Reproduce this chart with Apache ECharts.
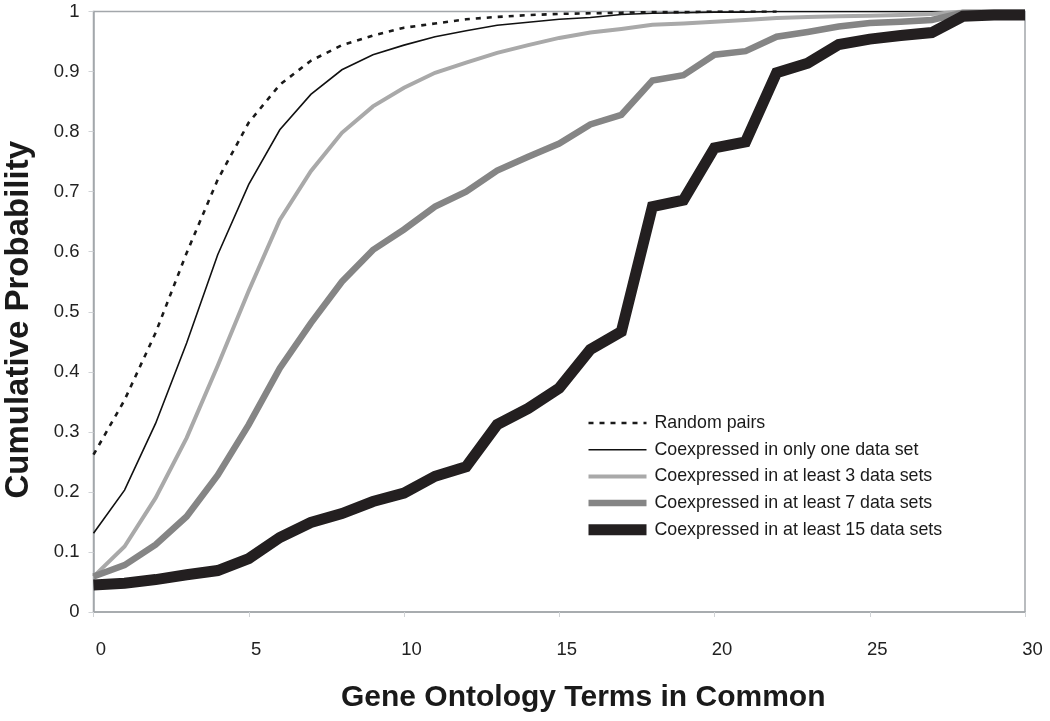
<!DOCTYPE html>
<html>
<head>
<meta charset="utf-8">
<script src="https://cdn.jsdelivr.net/npm/echarts@6/dist/echarts.min.js"></script>
<style>
html,body{margin:0;padding:0;background:#fff;}
#chart{width:1050px;height:721px;}
</style>
</head>
<body>
<div id="chart"></div>
<script>
const terms = [0,1,2,3,4,5,6,7,8,9,10,11,12,13,14,15,16,17,18,19,20,21,22,23,24,25,26,27,28,29,30];
const seriesNames = [
  "Random pairs",
  "Coexpressed in only one data set",
  "Coexpressed in at least 3 data sets",
  "Coexpressed in at least 7 data sets",
  "Coexpressed in at least 15 data sets"
];
const randomPairs = [0.262,0.353,0.465,0.598,0.72,0.815,0.878,0.918,0.944,0.96,0.973,0.98,0.987,0.991,0.994,0.996,0.997,0.998,0.999,0.999,1,1,1];
const onlyOne = [0.131,0.203,0.314,0.448,0.595,0.712,0.803,0.862,0.903,0.928,0.944,0.958,0.968,0.977,0.982,0.987,0.99,0.995,0.997,0.998,0.999,0.999,1,1,1,1,1,1,1,1,1];
const atLeast3 = [0.059,0.109,0.19,0.29,0.41,0.535,0.653,0.734,0.798,0.842,0.873,0.898,0.915,0.931,0.944,0.956,0.965,0.971,0.978,0.98,0.983,0.986,0.989,0.991,0.992,0.993,0.994,0.996,1,1,1];
const atLeast7 = [0.059,0.078,0.112,0.159,0.228,0.312,0.406,0.481,0.55,0.603,0.637,0.675,0.70,0.735,0.758,0.78,0.812,0.828,0.885,0.894,0.928,0.934,0.958,0.966,0.975,0.981,0.983,0.986,0.998,0.998,0.998];
const atLeast15 = [0.045,0.048,0.054,0.062,0.069,0.089,0.124,0.149,0.164,0.184,0.198,0.226,0.242,0.312,0.339,0.373,0.437,0.467,0.675,0.686,0.773,0.783,0.898,0.914,0.945,0.954,0.96,0.965,0.992,0.994,0.994];
const yTicks = ["0","0.1","0.2","0.3","0.4","0.5","0.6","0.7","0.8","0.9","1"];

function pairs(vals){ return vals.map((v,i)=>[terms[i],v]); }

const styles = [
  {color:"#1a1a1a", width:2.6, type:[5,6]},
  {color:"#111111", width:1.6, type:"solid"},
  {color:"#a9a9a9", width:4, type:"solid"},
  {color:"#858585", width:6.5, type:"solid"},
  {color:"#231f20", width:11, type:"solid"}
];
const dataSets = [randomPairs, onlyOne, atLeast3, atLeast7, atLeast15];
const FONT = "Liberation Sans, Arial, sans-serif";

const chart = echarts.init(document.getElementById('chart'), null, {renderer:'canvas'});
chart.setOption({
  animation:false,
  backgroundColor:"#ffffff",
  textStyle:{fontFamily:FONT},
  grid:{left:93.5, right:25, top:11.5, bottom:109, containLabel:false, outerBoundsMode:"none",
        show:true, borderColor:"#a3a7ab", borderWidth:1.5, backgroundColor:"transparent"},
  legend:{
    orient:"vertical", left:583, top:414, padding:0,
    itemWidth:58, itemHeight:16, itemGap:8.7,
    itemStyle:{opacity:0},
    textStyle:{fontSize:17.8, color:"#1a1a1a", fontFamily:FONT, padding:[0,0,0,3]},
    data:seriesNames.map((n,i)=>({name:n, lineStyle:{width:styles[i].width}}))
  },
  xAxis:{
    type:"value", min:0, max:30, interval:5,
    name:"Gene Ontology Terms in Common", nameLocation:"middle", nameGap:71,
    nameTextStyle:{fontSize:30, fontWeight:"bold", color:"#1a1a1a", fontFamily:FONT, padding:[0,0,0,48]},
    axisLine:{show:true, lineStyle:{color:"#a3a7ab", width:1.5}},
    axisTick:{show:true, length:5, lineStyle:{color:"#d0d3d6"}},
    axisLabel:{fontSize:18.5, color:"#222", margin:28, padding:[0,0,0,15]},
    splitLine:{show:false}
  },
  yAxis:{
    type:"value", min:0, max:1, interval:0.1,
    name:"Cumulative Probability", nameLocation:"middle", nameGap:58,
    nameTextStyle:{fontSize:33, fontWeight:"bold", color:"#1a1a1a", fontFamily:FONT, padding:[0,16,0,0]},
    axisLine:{show:true, lineStyle:{color:"#a3a7ab", width:1.5}},
    axisTick:{show:true, length:5, lineStyle:{color:"#d0d3d6"}},
    axisLabel:{fontSize:18.5, color:"#222", margin:14, formatter:(v)=>yTicks[Math.round(v*10)]},
    splitLine:{show:false}
  },
  series:seriesNames.map((n,i)=>({
    name:n, type:"line", data:pairs(dataSets[i]),
    symbol:"none", smooth:false, z:2+i,
    lineStyle:{color:styles[i].color, width:styles[i].width, type:styles[i].type, cap:"butt", join:"miter"},
    itemStyle:{color:styles[i].color}
  }))
});
</script>
</body>
</html>
